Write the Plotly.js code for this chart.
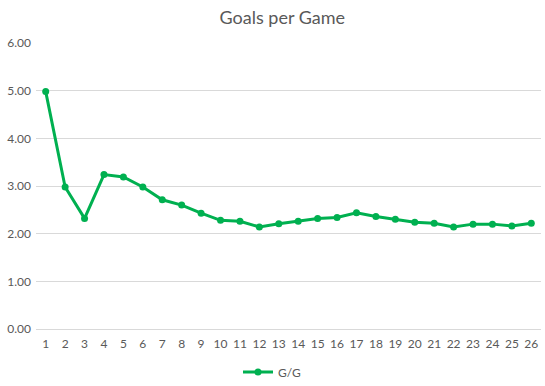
<!DOCTYPE html>
<html>
<head>
<meta charset="utf-8">
<script src="https://cdn.plot.ly/plotly-3.0.1.min.js"></script>
<style>html,body{margin:0;padding:0;background:#fff;}#chart{width:545px;height:386px;}</style>
</head>
<body>
<div id="chart"></div>
<script>
const games = [1,2,3,4,5,6,7,8,9,10,11,12,13,14,15,16,17,18,19,20,21,22,23,24,25,26];
const goalsPerGame = [4.98,2.98,2.32,3.24,3.19,2.98,2.71,2.60,2.43,2.28,2.26,2.14,2.21,2.26,2.32,2.34,2.44,2.36,2.30,2.24,2.22,2.14,2.20,2.20,2.16,2.22];
const seriesName = "G/G";
const chartTitle = "Goals per Game";

const font = "Lato, 'Open Sans', sans-serif";
Plotly.newPlot('chart', [{
  x: games,
  y: goalsPerGame,
  name: seriesName,
  type: 'scatter',
  mode: 'lines+markers',
  line: {color: '#00b050', width: 3},
  marker: {color: '#00b050', size: 7}
}], {
  width: 545, height: 386,
  margin: {l: 36, r: 4, t: 43, b: 57},
  paper_bgcolor: '#ffffff',
  plot_bgcolor: '#ffffff',
  font: {family: font, color: '#595959', size: 12},
  title: {text: chartTitle, font: {family: font, size: 18, color: '#595959'}, x: 0.518, xref: 'container', xanchor: 'center', y: 0.955, yanchor: 'middle'},
  xaxis: {
    type: 'linear', range: [0.5, 26.5], tickmode: 'array', tickvals: games, ticktext: games.map(String),
    showgrid: false, zeroline: false, showline: false, ticks: '', fixedrange: true, ticklabelstandoff: 6,
    tickfont: {size: 12, color: '#595959'}
  },
  yaxis: {
    range: [0, 6], dtick: 1, tick0: 0, tickformat: '.2f',
    showgrid: true, gridcolor: '#d9d9d9', gridwidth: 1, zeroline: true, zerolinecolor: '#d9d9d9', zerolinewidth: 1,
    showline: false, ticks: '', ticklabelstandoff: 4,
    tickfont: {size: 12, color: '#595959'}
  },
  showlegend: true,
  legend: {orientation: 'h', x: 0.5, xanchor: 'center', xref: 'container', y: 0.036, yref: 'container', yanchor: 'middle', font: {size: 12, color: '#595959'}}
}, {displayModeBar: false, staticPlot: true});
</script>
</body>
</html>
